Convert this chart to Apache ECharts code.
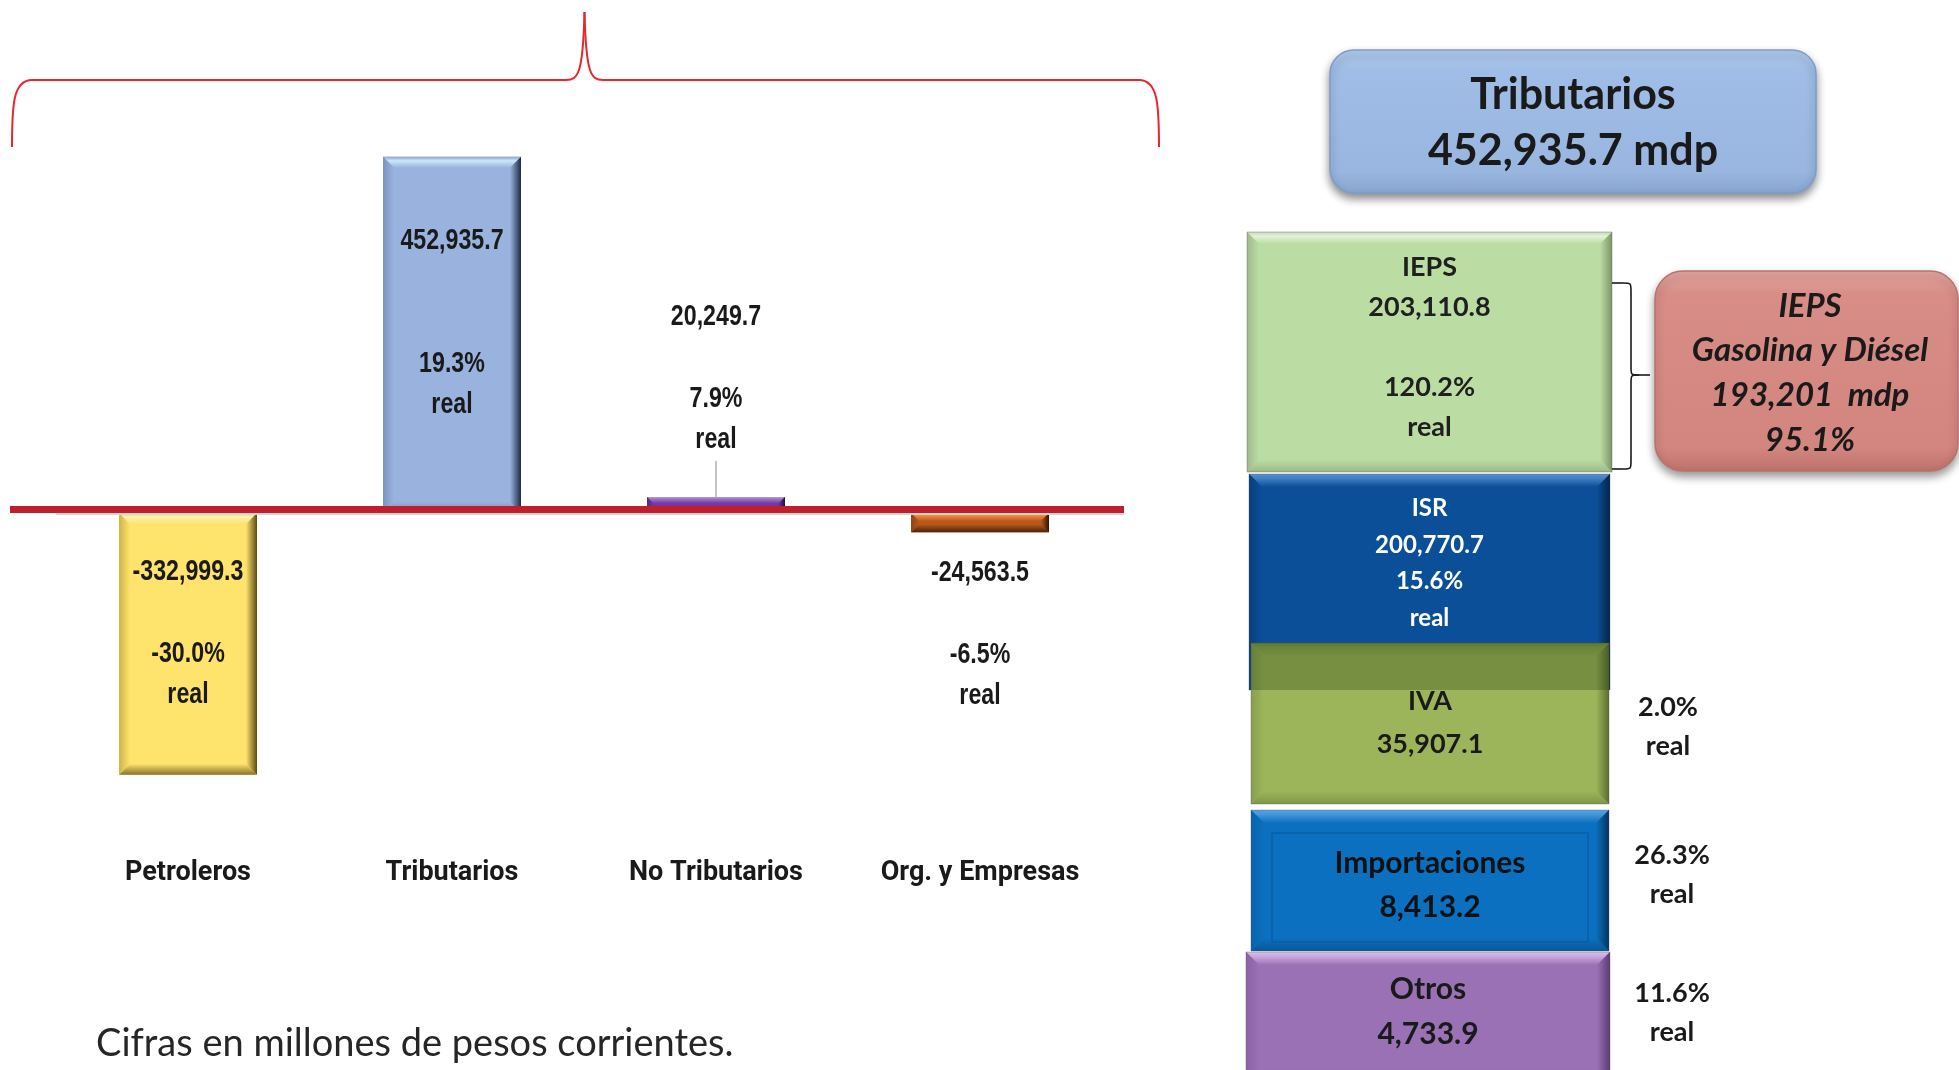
<!DOCTYPE html>
<html>
<head>
<meta charset="utf-8">
<script src="https://cdn.jsdelivr.net/npm/echarts@6/dist/echarts.min.js"></script>
<style>
html,body{margin:0;padding:0;background:#fff;}
#chart{width:1959px;height:1070px;}
</style>
</head>
<body>
<div id="chart"></div>
<script>
// ---------- DATA ----------
const categories = ['Petroleros', 'Tributarios', 'No Tributarios', 'Org. y Empresas'];
const values = [-332999.3, 452935.7, 20249.7, -24563.5];
const realGrowth = ['-30.0%', '19.3%', '7.9%', '-6.5%'];

const tributariosTotal = 452935.7;
const taxItems = ['IEPS', 'ISR', 'IVA', 'Importaciones', 'Otros'];
const taxValues = [203110.8, 200770.7, 35907.1, 8413.2, 4733.9];
const taxReal = ['120.2%', '15.6%', '2.0%', '26.3%', '11.6%'];

const iepsFuelLabel = ['IEPS', 'Gasolina y Diésel'];
const iepsFuelValue = 193201;
const iepsFuelShare = '95.1%';

const footnote = 'Cifras en millones de pesos corrientes.';

// ---------- HELPERS ----------
const fmt1 = v => v.toLocaleString('en-US', {minimumFractionDigits: 1, maximumFractionDigits: 1});
const fmt0 = v => v.toLocaleString('en-US', {maximumFractionDigits: 0});
function LG(x, y, x2, y2, stops) {
  return {type: 'linear', x: x, y: y, x2: x2, y2: y2, colorStops: stops, global: false};
}

function bevel(x, y, w, h, b, p) {
  return [
    {type: 'rect', shape: {x: x, y: y, width: w, height: h}, style: {fill: p.main}},
    {type: 'polygon', shape: {points: [[x, y], [x + w, y], [x + w - b, y + b], [x + b, y + b]]},
      style: {fill: LG(0, 0, 0, 1, [{offset: 0, color: p.edge || p.top}, {offset: 0.35, color: p.top}, {offset: 1, color: p.main}])}},
    {type: 'polygon', shape: {points: [[x, y + h], [x + w, y + h], [x + w - b, y + h - b], [x + b, y + h - b]]},
      style: {fill: LG(0, 1, 0, 0, [{offset: 0, color: p.bottom}, {offset: 1, color: p.main}])}},
    {type: 'polygon', shape: {points: [[x, y], [x + b, y + b], [x + b, y + h - b], [x, y + h]]},
      style: {fill: LG(0, 0, 1, 0, [{offset: 0, color: p.left}, {offset: 1, color: p.main}])}},
    {type: 'polygon', shape: {points: [[x + w, y], [x + w - b, y + b], [x + w - b, y + h - b], [x + w, y + h]]},
      style: {fill: LG(1, 0, 0, 0, [{offset: 0, color: p.right}, {offset: 1, color: p.main}])}}
  ];
}
function seg(x1, y1, x2, y2, st) { return {type: 'line', shape: {x1: x1, y1: y1, x2: x2, y2: y2}, style: st}; }
function bez(x1, y1, c1x, c1y, c2x, c2y, x2, y2, st) {
  return {type: 'bezierCurve', shape: {x1: x1, y1: y1, cpx1: c1x, cpy1: c1y, cpx2: c2x, cpy2: c2y, x2: x2, y2: y2}, style: Object.assign({fill: null}, st)};
}

// ---------- STYLES ----------
const barPalettes = [
  {main: '#fee36d', top: '#fff4b0', edge: '#e8d060', bottom: '#85722a', left: '#cdb44a', right: '#5a4b12'},
  {main: '#9ab3de', top: '#cbe7f8', edge: '#8ea6cc', bottom: '#6d86b0', left: '#7a94c0', right: '#1c2a44'},
  {main: '#7237a2', top: '#9a6ec2', edge: '#b59ad0', bottom: '#4a1f6e', left: '#55277d', right: '#24093a'},
  {main: '#b8581c', top: '#f08a38', edge: '#f4a060', bottom: '#4a2208', left: '#8e4412', right: '#2e1302'}
];
const labelBlank = [1, 2, 1, 1];      // empty lines between value and % text
const labelDy = [-10, -12, -127, 112]; // label block offset from bar centre
const BAR_W = 138;
const labelFont = 'bold 29px "Liberation Sans", Arial, sans-serif';
const labelScaleX = 0.8;

const boxFont = '"Lato", "Open Sans", sans-serif';

// right-hand diagram layout
const boxLayout = [
  {x: 1247, y: 232, w: 365, h: 240, b: 12, fs: 27, lh: 40, cy: 347, fill: '#1f1f1f',
    pal: {main: '#bbdca3', top: '#e2f2d6', edge: '#c8d8bc', bottom: '#9cb887', left: '#9fb98c', right: '#7c9569'}},
  {x: 1249, y: 474, w: 361, h: 216, b: 13, fs: 24, lh: 36.5, cy: 563.5, fill: '#ffffff',
    pal: {main: '#0a4f98', top: '#3f80c2', edge: '#5a8fc8', bottom: '#083d76', left: '#083f7c', right: '#042449'}},
  {x: 1251, y: 643, w: 358, h: 161, b: 13, fs: 27, lh: 43, cy: 722.5, fill: '#1a1a1a',
    pal: {main: '#9db55a', top: '#8aa64c', edge: '#7a9440', bottom: '#7f9746', left: '#889f4e', right: '#5b6e2e'}},
  {x: 1251, y: 810, w: 358, h: 141, b: 13, fs: 30, lh: 44, cy: 885, fill: '#111111', inner: '#0a5ea6',
    pal: {main: '#0b70bf', top: '#4196da', edge: '#5aa2de', bottom: '#08579a', left: '#0962ab', right: '#04345f'}},
  {x: 1246, y: 952, w: 364, h: 130, b: 13, fs: 30, lh: 45, cy: 1011.5, fill: '#1a1a1a',
    pal: {main: '#9b71b6', top: '#caa8dc', edge: '#d8c0e4', bottom: '#7a5393', left: '#8a62a5', right: '#5a3a70'}}
];
const sideLayout = [null, null, {x: 1668, cy: 726.5, lh: 39}, {x: 1672, cy: 874.5, lh: 39}, {x: 1672, cy: 1012.5, lh: 39}];

// ---------- GRAPHICS ----------
const graphics = [];

// red curly brace over the bar chart
const braceSt = {stroke: '#e8262c', lineWidth: 2};
graphics.push({type: 'group', z: 10, children: [
  bez(12, 147, 12, 105, 13, 80, 32, 80, braceSt),
  seg(32, 80, 566, 80, braceSt),
  bez(566, 80, 578, 80, 583, 74, 584.5, 12, braceSt),
  bez(584.5, 12, 586, 74, 591, 80, 603, 80, braceSt),
  seg(603, 80, 1139, 80, braceSt),
  bez(1139, 80, 1158, 80, 1159, 105, 1159, 147, braceSt)
]});
// baseline: thin grey axis line + thick red bar
graphics.push({type: 'rect', z: 10, shape: {x: 56, y: 513, width: 1068, height: 2}, style: {fill: '#d4d4d4'}});
graphics.push({type: 'rect', z: 11, shape: {x: 10, y: 506, width: 1114, height: 7}, style: {fill: '#bf1e2d'}});

// footnote
graphics.push({type: 'text', x: 96, y: 1044, z: 10,
  style: {text: footnote, font: '38px "Lato", sans-serif', fill: '#262626', verticalAlign: 'middle', align: 'left'}});

// title box
graphics.push({type: 'rect', z: 5,
  shape: {x: 1330, y: 50, width: 486, height: 143, r: 24},
  style: {fill: LG(0, 0, 0, 1, [{offset: 0, color: '#b3cdee'}, {offset: 0.15, color: '#9fbde6'}, {offset: 0.85, color: '#98b6df'}, {offset: 1, color: '#86a5d0'}]),
    stroke: '#7e9ccb', lineWidth: 1.5, shadowBlur: 8, shadowOffsetY: 5, shadowColor: 'rgba(0,0,0,0.45)'}});
graphics.push({type: 'text', z: 6, x: 1573, y: 123,
  style: {text: 'Tributarios\n' + fmt1(tributariosTotal) + ' mdp', font: 'bold 43px ' + boxFont, lineHeight: 56,
    fill: '#1a1a1a', align: 'center', verticalAlign: 'middle'}});

// stacked component boxes (drawn in order so later overlap earlier)
taxItems.forEach((name, i) => {
  const L = boxLayout[i];
  const kids = bevel(L.x, L.y, L.w, L.h, L.b, L.pal);
  kids.push({type: 'rect', shape: {x: L.x, y: L.y, width: L.w, height: L.h}, style: {fill: null, stroke: 'rgba(80,80,80,0.35)', lineWidth: 1}});
  if (i === 2) {
    kids.push({type: 'rect', shape: {x: L.x, y: L.y, width: L.w, height: 47}, style: {fill: 'rgba(30,55,10,0.3)'}});
  }
  if (L.inner) {
    kids.push({type: 'rect', shape: {x: L.x + 21, y: L.y + 23, width: L.w - 42, height: L.h - 32}, style: {fill: null, stroke: L.inner, lineWidth: 1.5}});
  }
  let lines;
  if (i === 0) lines = [name, fmt1(taxValues[i]), '', taxReal[i], 'real'];
  else if (i === 1) lines = [name, fmt1(taxValues[i]), taxReal[i], 'real'];
  else lines = [name, fmt1(taxValues[i])];
  kids.push({type: 'text', x: L.x + L.w / 2, y: L.cy,
    style: {text: lines.join('\n'), font: 'bold ' + L.fs + 'px ' + boxFont, lineHeight: L.lh, fill: L.fill, align: 'center', verticalAlign: 'middle'}});
  graphics.push({type: 'group', z: 5 + i, children: kids});
  const S = sideLayout[i];
  if (S) {
    graphics.push({type: 'text', z: 10, x: S.x, y: S.cy,
      style: {text: taxReal[i] + '\nreal', font: 'bold 27px ' + boxFont, lineHeight: S.lh, fill: '#1a1a1a', align: 'center', verticalAlign: 'middle'}});
  }
});

// bracket linking IEPS to fuel box
const brSt = {stroke: '#1a1a1a', lineWidth: 1.6};
graphics.push({type: 'group', z: 10, children: [
  seg(1612, 283, 1623, 283, brSt),
  bez(1623, 283, 1631, 283, 1631, 283, 1631, 291, brSt),
  seg(1631, 291, 1631, 367, brSt),
  bez(1631, 367, 1631, 375, 1631, 375, 1639, 375, brSt),
  seg(1639, 375, 1650, 375, brSt),
  bez(1639, 375, 1631, 375, 1631, 375, 1631, 383, brSt),
  seg(1631, 383, 1631, 461, brSt),
  bez(1631, 461, 1631, 469, 1631, 469, 1623, 469, brSt),
  seg(1623, 469, 1612, 469, brSt)
]});

// fuel IEPS box
graphics.push({type: 'rect', z: 5,
  shape: {x: 1655, y: 271, width: 303, height: 200, r: 28},
  style: {fill: LG(0, 0, 0, 1, [{offset: 0, color: '#e6a7a2'}, {offset: 0.12, color: '#d88d87'}, {offset: 0.88, color: '#d3857f'}, {offset: 1, color: '#bf716b'}]),
    stroke: '#b9726d', lineWidth: 1.5, shadowBlur: 8, shadowOffsetY: 5, shadowColor: 'rgba(0,0,0,0.4)'}});
graphics.push({type: 'text', z: 6, x: 1810, y: 373,
  style: {text: iepsFuelLabel.join('\n') + '\n' + fmt0(iepsFuelValue) + '  mdp\n' + iepsFuelShare,
    font: 'italic bold 33px ' + boxFont, lineHeight: 44.7, fill: '#1a1a1a', align: 'center', verticalAlign: 'middle'}});

// ---------- CHART ----------
const chart = echarts.init(document.getElementById('chart'), null, {renderer: 'canvas'});
chart.setOption({
  backgroundColor: '#ffffff',
  animation: false,
  grid: {left: 56, right: 847, top: 119.85, bottom: 242.5, containLabel: false},
  xAxis: {
    type: 'category', data: categories,
    axisLine: {show: false, onZero: false}, axisTick: {show: false}, splitLine: {show: false},
    axisLabel: {interval: 0, margin: 32, fontFamily: 'Roboto, "Liberation Sans", sans-serif',
      fontWeight: 'bold', fontSize: 27, lineHeight: 28, color: '#1a1a1a'}
  },
  yAxis: {type: 'value', min: -400000, max: 500000, show: false, splitLine: {show: false}},
  graphic: graphics,
  series: [{
    type: 'custom',
    clip: false,
    z: 3,
    encode: {x: 0, y: 1},
    data: values.map((v, i) => [i, v]),
    renderItem: function (params, api) {
      const i = params.dataIndex;
      const v = api.value(1);
      const top = api.coord([api.value(0), v]);
      const zero = api.coord([api.value(0), 0]);
      const cx = top[0];
      const y = Math.min(top[1], zero[1]);
      const h = Math.abs(zero[1] - top[1]);
      const b = Math.min(11, h / 2.4);
      const kids = bevel(cx - BAR_W / 2, y, BAR_W, h, b, barPalettes[i]);
      const lines = [fmt1(v)];
      for (let k = 0; k < labelBlank[i]; k++) lines.push('');
      lines.push(realGrowth[i], 'real');
      kids.push({type: 'text', x: cx, y: y + h / 2 + labelDy[i], scaleX: labelScaleX,
        style: {text: lines.join('\n'), font: labelFont, lineHeight: 41, fill: '#1a1a1a', align: 'center', verticalAlign: 'middle'}});
      if (i === 2) {
        kids.push({type: 'line', shape: {x1: cx, y1: top[1] - 36, x2: cx, y2: top[1]}, style: {stroke: '#a6a6a6', lineWidth: 1.3}});
      }
      return {type: 'group', children: kids};
    }
  }]
});
</script>
</body>
</html>
